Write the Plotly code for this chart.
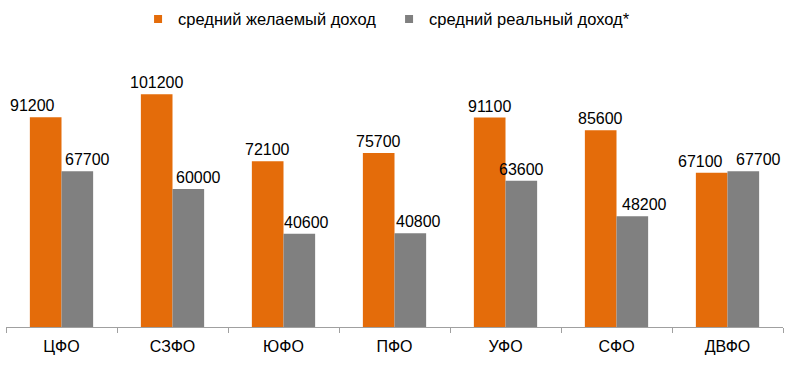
import plotly.graph_objects as go

categories = ["ЦФО", "СЗФО", "ЮФО", "ПФО", "УФО", "СФО", "ДВФО"]
desired = [91200, 101200, 72100, 75700, 91100, 85600, 67100]
real = [67700, 60000, 40600, 40800, 63600, 48200, 67700]
series_names = ["средний желаемый доход", "средний реальный доход*"]

# label horizontal offsets (px) relative to category centre
desired_dx = [-29, -16, -16, -16, -16, -16, -27]
real_dx = [26, 26, 23, 24, 16, 28, 31]

ORANGE = "#E46C0A"
GRAY = "#808080"
FONT = "Liberation Sans, Arial, sans-serif"

fig = go.Figure()
fig.add_bar(x=categories, y=desired, name=series_names[0], marker_color=ORANGE,
            marker_line_width=0, showlegend=False)
fig.add_bar(x=categories, y=real, name=series_names[1], marker_color=GRAY,
            marker_line_width=0, showlegend=False)
# legend entries with small square markers
for nm, col in zip(series_names, (ORANGE, GRAY)):
    fig.add_scatter(x=[None], y=[None], mode="markers", name=nm,
                    marker=dict(symbol="square", size=8, color=col))

for vals, dxs in ((desired, desired_dx), (real, real_dx)):
    for c, v, dx in zip(categories, vals, dxs):
        fig.add_annotation(x=c, y=v, text=str(v), showarrow=False, xshift=dx,
                           yanchor="bottom", yshift=1,
                           font=dict(family=FONT, size=16, color="#000000"))

fig.update_layout(
    width=800, height=367,
    margin=dict(l=6, r=17, t=40, b=40, autoexpand=False),
    paper_bgcolor="white", plot_bgcolor="white",
    barmode="group", bargap=0.43, bargroupgap=0,
    font=dict(family=FONT, size=16, color="#000000"),
    legend=dict(orientation="h", x=0.493, xanchor="center", y=0.995, yanchor="top",
                yref="container", font=dict(size=16.5), itemwidth=30,
                entrywidth=206, traceorder="normal"),
    showlegend=True,
)
fig.update_xaxes(showline=True, linecolor="#A0A0A0", linewidth=1,
                 ticks="outside", tickson="boundaries", ticklen=5, tickcolor="#A0A0A0",
                 tickfont=dict(size=16), ticklabelstandoff=5)
fig.update_yaxes(visible=False, range=[0, 124800], showgrid=False)

fig.write_html("out.html", config={"displayModeBar": False},
               post_script="document.body.style.margin='0';")
